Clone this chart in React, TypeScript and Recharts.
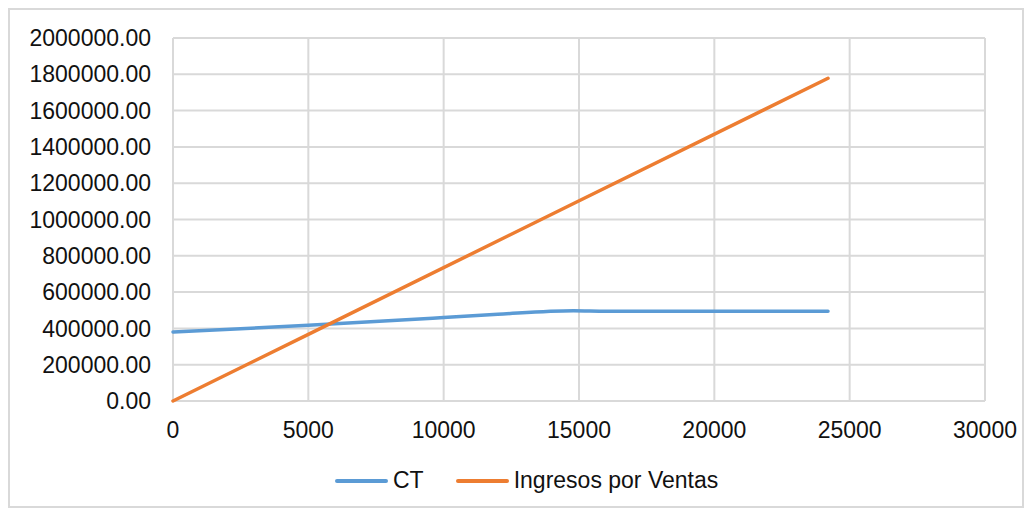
import React from 'react';
import { LineChart, Line, XAxis, YAxis, CartesianGrid, Legend } from 'recharts';

// Costo total (CT) por unidades
const ctUnits = [0, 5000, 10000, 12000, 14800, 16000, 24200];
const ctValues = [380000, 417000, 460000, 478000, 497500, 495000, 495000];

// Ingresos por ventas
const salesUnits = [0, 5000, 14800, 24200];
const salesValues = [0, 367000, 1088000, 1778000];

const xTicks = [0, 5000, 10000, 15000, 20000, 25000, 30000];
const yTicks = [0, 200000, 400000, 600000, 800000, 1000000, 1200000, 1400000, 1600000, 1800000, 2000000];

const ctData = ctUnits.map((x, i) => ({ x, y: ctValues[i] }));
const salesData = salesUnits.map((x, i) => ({ x, y: salesValues[i] }));

const FONT = '"Liberation Sans", Arial, sans-serif';
const tickStyle = { fill: '#111', fontSize: 23, fontFamily: FONT };

const legendItems = [
  { name: 'CT', color: '#5B9BD5' },
  { name: 'Ingresos por Ventas', color: '#ED7D31' },
];

const LegendContent = () => (
  <div style={{ display: 'flex', alignItems: 'center', marginLeft: 325, fontFamily: FONT, fontSize: 23, color: '#111' }}>
    {legendItems.map((it, i) => (
      <div key={it.name} style={{ display: 'flex', alignItems: 'center', marginRight: i === 0 ? 32 : 0 }}>
        <div style={{ width: 53, height: 4, borderRadius: 2, background: it.color, marginRight: 5 }} />
        <span>{it.name}</span>
      </div>
    ))}
  </div>
);

export default function App() {
  return (
    <div
      style={{
        position: 'relative',
        width: 1016,
        height: 500,
        border: '2px solid #D9D9D9',
        boxSizing: 'border-box',
        background: '#fff',
      }}
    >
      <LineChart width={1012} height={496} margin={{ top: 28, right: 37, left: 0, bottom: 65 }}>
        <CartesianGrid stroke="#D9D9D9" strokeWidth={2} />
        <XAxis
          dataKey="x"
          type="number"
          domain={[0, 30000]}
          ticks={xTicks}
          axisLine={false}
          tickLine={false}
          tickSize={0}
          tickMargin={21}
          height={40}
          tick={tickStyle}
          interval={0}
        />
        <YAxis
          type="number"
          domain={[0, 2000000]}
          ticks={yTicks}
          axisLine={false}
          tickLine={false}
          tickSize={0}
          tickMargin={22}
          width={163}
          tick={tickStyle}
          interval={0}
          tickFormatter={(v: number) => v.toFixed(2)}
        />
        <Legend
          verticalAlign="middle"
          align="center"
          layout="horizontal"
          content={<LegendContent />}
          wrapperStyle={{ top: 457, left: 0, width: 1012 }}
        />
        <Line
          data={ctData}
          dataKey="y"
          name="CT"
          type="monotone"
          stroke="#5B9BD5"
          strokeWidth={3.5}
          strokeLinecap="round"
          dot={false}
          isAnimationActive={false}
        />
        <Line
          data={salesData}
          dataKey="y"
          name="Ingresos por Ventas"
          type="linear"
          stroke="#ED7D31"
          strokeWidth={3.5}
          strokeLinecap="round"
          dot={false}
          isAnimationActive={false}
        />
      </LineChart>
    </div>
  );
}
